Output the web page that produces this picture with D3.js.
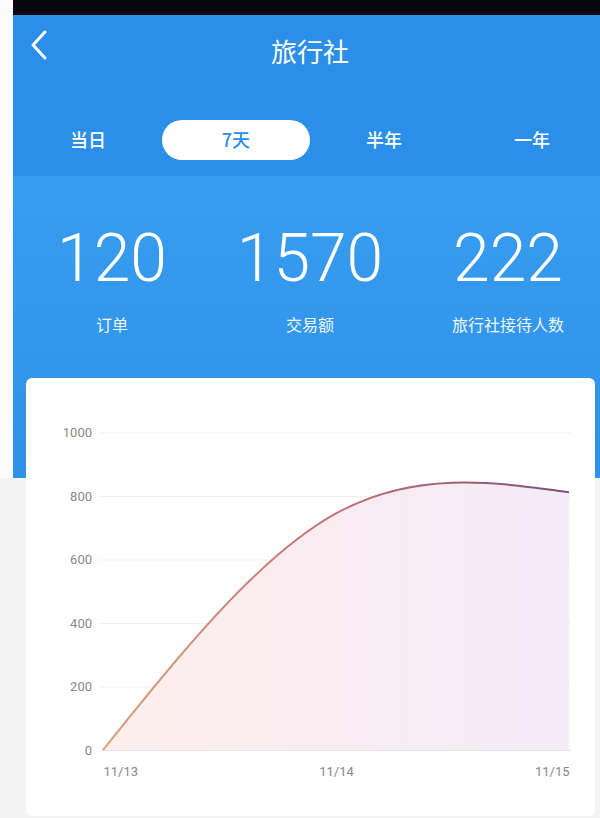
<!DOCTYPE html>
<html><head><meta charset="utf-8">
<script src="https://cdn.jsdelivr.net/npm/d3@7/dist/d3.min.js"></script>
<style>body{margin:0;background:#f4f4f4;overflow:hidden}svg{display:block}</style>
</head><body>
<script>
const title = "旅行社";
const tabs = ["当日", "7天", "半年", "一年"];
const activeTab = "7天";
const statValues = ["120", "1570", "222"];
const statLabels = ["订单", "交易额", "旅行社接待人数"];
const dates = ["11/13", "11/14", "11/15"];
const values = [0, 745, 812];
const yTicks = [0, 200, 400, 600, 800, 1000];

const W = 600, H = 818;
const svg = d3.select("body").append("svg").attr("width", W).attr("height", H);
const defs = svg.append("defs");

// backgrounds
svg.append("rect").attr("x", 0).attr("y", 0).attr("width", W).attr("height", H).attr("fill", "#f4f4f4");
svg.append("rect").attr("x", 0).attr("y", 0).attr("width", 13).attr("height", 478).attr("fill", "#fbfbfb");
const sg = defs.append("linearGradient").attr("id", "statsBg").attr("x1", 0).attr("y1", 0).attr("x2", 0).attr("y2", 1);
sg.append("stop").attr("offset", "0%").attr("stop-color", "#389cef");
sg.append("stop").attr("offset", "100%").attr("stop-color", "#2e92ea");
svg.append("rect").attr("x", 13).attr("y", 176).attr("width", W - 13).attr("height", 302).attr("fill", "url(#statsBg)");
svg.append("rect").attr("x", 13).attr("y", 14).attr("width", W - 13).attr("height", 162).attr("fill", "#2b8ee8");
svg.append("rect").attr("x", 13).attr("y", 0).attr("width", W - 13).attr("height", 15).attr("fill", "#07080f");

// back chevron
svg.append("path").attr("d", "M45,32 L33,45 L45,58").attr("fill", "none")
  .attr("stroke", "#fff").attr("stroke-width", 3).attr("stroke-linecap", "round").attr("stroke-linejoin", "round");

svg.append("text").attr("x", 310).attr("y", 62).attr("text-anchor", "middle")
  .attr("font-family", "Noto Sans CJK SC").attr("font-size", 26).attr("fill", "#fff").text(title);

// tabs
const tabX = d3.scalePoint().domain(tabs).range([88, 532]);
const tabG = svg.append("g");
tabG.append("rect").attr("x", tabX(activeTab) - 74).attr("y", 120).attr("width", 148).attr("height", 40)
  .attr("rx", 20).attr("fill", "#fff");
tabG.selectAll("text").data(tabs).join("text")
  .attr("x", d => tabX(d)).attr("y", 147).attr("text-anchor", "middle")
  .attr("font-family", "Noto Sans CJK SC").attr("font-weight", 500).attr("font-size", 18)
  .attr("fill", d => d === activeTab ? "#2b8ee8" : "#fff").text(d => d);

// stats
const statX = d3.scalePoint().domain(d3.range(statValues.length)).range([112, 508]);
svg.append("g").selectAll("text").data(statValues).join("text")
  .attr("x", (d, i) => statX(i)).attr("y", 281).attr("text-anchor", "middle")
  .attr("font-family", "Roboto").attr("font-weight", 300).attr("font-size", 66).attr("fill", "#fff").text(d => d);
svg.append("g").selectAll("text").data(statLabels).join("text")
  .attr("x", (d, i) => statX(i)).attr("y", 331).attr("text-anchor", "middle")
  .attr("font-family", "Noto Sans CJK SC").attr("font-size", 16).attr("fill", "#eef6ff").text(d => d);

// card
svg.append("rect").attr("x", 26).attr("y", 378).attr("width", 569).attr("height", 438).attr("rx", 6).attr("fill", "#fff");

// chart
const x = d3.scalePoint().domain(dates).range([103, 569]);
const y = d3.scaleLinear().domain([0, 1000]).range([750, 432.5]);

const grid = svg.append("g").attr("transform", "translate(100,0)")
  .call(d3.axisLeft(y).tickValues(yTicks).tickSize(-471).tickFormat(""));
grid.select(".domain").remove();
grid.selectAll(".tick line").attr("stroke", d => d === 0 ? "#e6e6e6" : "#f1f1f1").attr("stroke-width", 1);

const yAx = svg.append("g").attr("transform", "translate(92,0)")
  .call(d3.axisLeft(y).tickValues(yTicks).tickSize(0).tickPadding(0).tickFormat(d3.format("d")));
yAx.select(".domain").remove();
yAx.selectAll("text").attr("font-family", "Roboto").attr("font-size", 13).attr("fill", "#888");

const xAx = svg.append("g").attr("transform", "translate(0,758)")
  .call(d3.axisBottom(x).tickSize(0).tickPadding(0));
xAx.select(".domain").remove();
xAx.selectAll("text").attr("font-family", "Roboto").attr("font-size", 13).attr("fill", "#888")
  .attr("dy", "1em").attr("y", 5)
  .attr("text-anchor", (d, i) => i === 0 ? "start" : (i === dates.length - 1 ? "end" : "middle"));

const ag = defs.append("linearGradient").attr("id", "areaG").attr("x1", 0).attr("y1", 0).attr("x2", 1).attr("y2", 0);
ag.append("stop").attr("offset", "0%").attr("stop-color", "#fdefec");
ag.append("stop").attr("offset", "100%").attr("stop-color", "#f5eaf8");
const lg = defs.append("linearGradient").attr("id", "lineG").attr("gradientUnits", "userSpaceOnUse")
  .attr("x1", 103).attr("y1", 0).attr("x2", 569).attr("y2", 0);
lg.append("stop").attr("offset", "0%").attr("stop-color", "#d9a57e");
lg.append("stop").attr("offset", "50%").attr("stop-color", "#c27277");
lg.append("stop").attr("offset", "100%").attr("stop-color", "#7b5177");

const data = dates.map((d, i) => ({ d, v: values[i] }));
svg.append("path").datum(data)
  .attr("d", d3.area().x(p => x(p.d)).y0(y(0)).y1(p => y(p.v)).curve(d3.curveNatural))
  .attr("fill", "url(#areaG)");
svg.append("path").datum(data)
  .attr("d", d3.line().x(p => x(p.d)).y(p => y(p.v)).curve(d3.curveNatural))
  .attr("fill", "none").attr("stroke", "url(#lineG)").attr("stroke-width", 2);
</script>
</body></html>
